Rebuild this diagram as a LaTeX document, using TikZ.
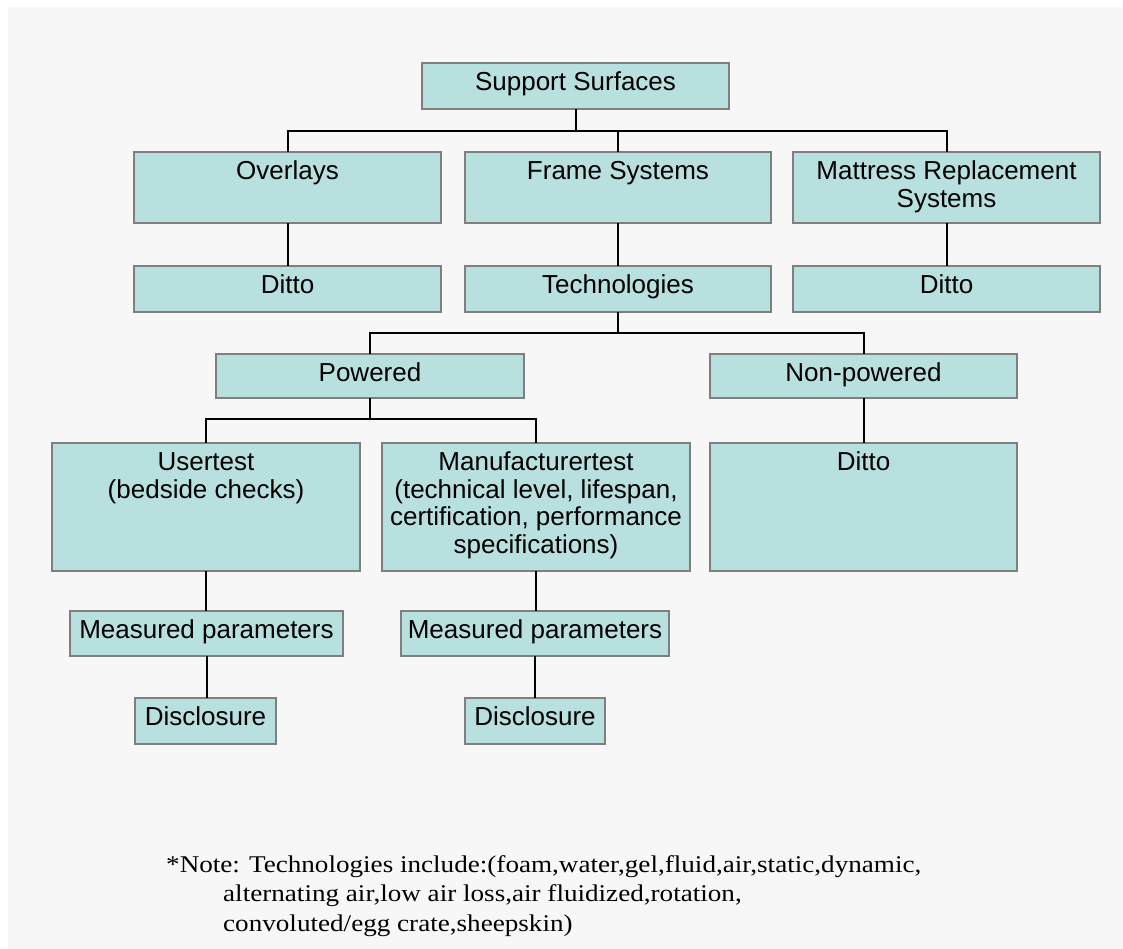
\documentclass[tikz,border=0pt]{standalone}
\usepackage{fontspec}
\setmainfont{Liberation Sans}
\newfontfamily\notefont[FakeStretch=1.13]{Liberation Serif}
\definecolor{boxfill}{HTML}{B8E0DF}
\definecolor{boxline}{HTML}{7F7F7F}
\definecolor{bgcol}{HTML}{F7F7F7}
\newcommand{\bx}[3]{\parbox[c][#2][t]{#1}{\centering\fontsize{26}{27.5}\selectfont\vspace*{8.5pt}\strut #3\par}}
\begin{document}
\begin{tikzpicture}[x=1pt,y=-1pt,
  box/.style={draw=boxline, fill=boxfill, line width=1.5pt, inner sep=0pt, outer sep=0pt},
  conn/.style={line width=2pt, black},
  notestyle/.style={inner sep=0pt, align=left, anchor=north west, font={\notefont\fontsize{24}{29.5}\selectfont}}]
\useasboundingbox (0,0) rectangle (1123,949);
\fill[bgcol] (8,7) rectangle (1123,949);

\node[box] (ss) at (575.5,86) {\bx{307pt}{46pt}{Support Surfaces}};
\node[box] (ov) at (287.5,187.5) {\bx{307pt}{71pt}{Overlays}};
\node[box] (fs) at (618,187.5) {\bx{306pt}{71pt}{Frame Systems}};
\node[box] (mr) at (946.5,187.5) {\bx{307pt}{71pt}{Mattress Replacement\\Systems}};
\node[box] (d1) at (287.5,289) {\bx{307pt}{46pt}{Ditto}};
\node[box] (te) at (618,289) {\bx{306pt}{46pt}{Technologies}};
\node[box] (d2) at (946.5,289) {\bx{307pt}{46pt}{Ditto}};
\node[box] (pw) at (370,376) {\bx{308pt}{44pt}{Powered}};
\node[box] (np) at (863.5,376) {\bx{307pt}{44pt}{Non-powered}};
\node[box] (ut) at (206,507) {\bx{308pt}{128pt}{Usertest\\(bedside checks)}};
\node[box] (mt) at (536,507) {\bx{308pt}{128pt}{Manufacturertest\\(technical level, lifespan,\\certification, performance\\specifications)}};
\node[box] (d3) at (863.5,507) {\bx{307pt}{128pt}{Ditto}};
\node[box] (m1) at (206.5,633.5) {\bx{273pt}{45pt}{Measured parameters}};
\node[box] (m2) at (535,633.5) {\bx{268pt}{45pt}{Measured parameters}};
\node[box] (c1) at (205.5,721) {\bx{141pt}{46pt}{Disclosure}};
\node[box] (c2) at (535,721) {\bx{140pt}{46pt}{Disclosure}};

% level 1 bus
\draw[conn] (ss.south) -- ++(0,22) coordinate (b1);
\draw[conn] (ov.north) |- (b1) -| (mr.north);
\draw[conn] (fs.north) -- (fs.north |- b1);
% straight drops
\draw[conn] (ov.south) -- (d1.north);
\draw[conn] (fs.south) -- (te.north);
\draw[conn] (mr.south) -- (d2.north);
% technologies bus
\draw[conn] (te.south) -- ++(0,21) coordinate (b2);
\draw[conn] (pw.north) |- (b2) -| (np.north);
% powered bus
\draw[conn] (pw.south) -- ++(0,21) coordinate (b3);
\draw[conn] (ut.north) |- (b3) -| (mt.north);
\draw[conn] (np.south) -- (d3.north);
\draw[conn] (ut.south) -- (ut.south |- m1.north);
\draw[conn] (mt.south) -- (mt.south |- m2.north);
\draw[conn] (m1.south) -- (m1.south |- c1.north);
\draw[conn] (m2.south) -- (m2.south |- c2.north);

\node[notestyle] (note) at (166,855) {*Note: Technologies include:(foam,water,gel,fluid,air,static,dynamic,\\\hspace*{57pt}alternating air,low air loss,air fluidized,rotation,\\\hspace*{57pt}convoluted/egg crate,sheepskin)};
\end{tikzpicture}
\end{document}
